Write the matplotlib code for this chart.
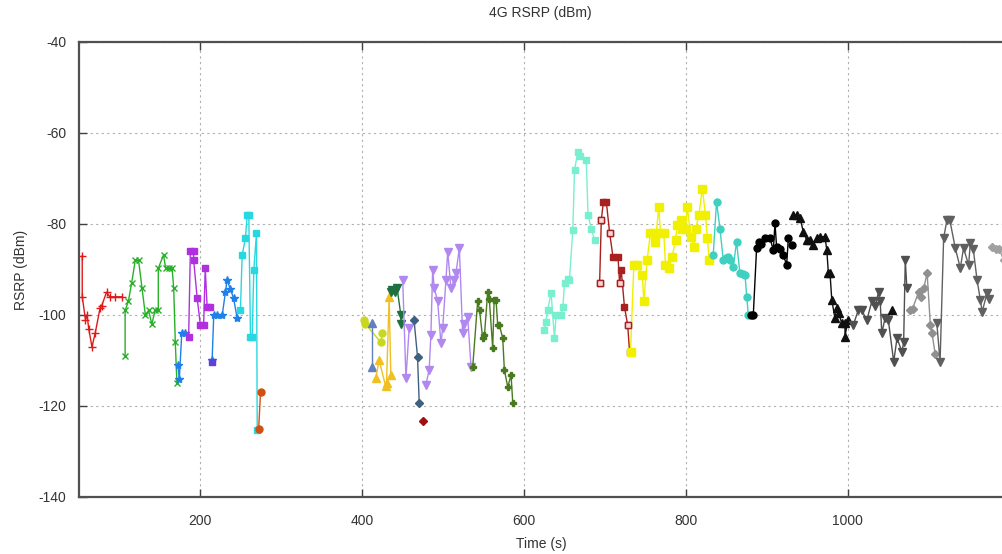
import matplotlib
matplotlib.use("Agg")
import matplotlib.pyplot as plt

plt.rcParams['font.family'] = ['Liberation Sans', 'DejaVu Sans']
plt.rcParams['axes.unicode_minus'] = False

# ---- data: (time, rsrp) per measurement segment ----
red_x = [54, 54, 58, 60, 62, 66, 70, 76, 78, 84, 88, 95, 103]
red_y = [-87, -96, -101, -100, -103, -107, -104, -98.5, -98, -95, -96, -96, -96]

green_x = [107, 107, 111, 115, 119.5, 123.6, 127.8, 132, 136, 140, 144, 148, 148, 154.5, 157, 161, 165, 167, 169, 171]
green_y = [-109, -99, -97, -93, -88, -88, -94, -100, -99, -102, -99, -99, -89.7, -86.8, -89.7, -89.7, -89.7, -94, -106, -115]

blue1_x = [172, 174, 177, 181]
blue1_y = [-111, -114, -104, -104]

purple_x = [185.5, 187.6, 191.7, 191.7, 196, 200, 204, 206, 208.3, 212.4]
purple_y = [-104.8, -86, -86, -88, -96.3, -102.2, -102.2, -89.7, -98.2, -98.2]

slate_sq_x = [214.5]
slate_sq_y = [-110.3]

blue2_x = [214.5, 216.5, 220.6, 227, 231, 233, 237, 241, 245.4]
blue2_y = [-110, -100, -100, -100, -94.9, -92.3, -94.3, -96.3, -100.7]

cyan_x = [249.5, 251.6, 255.7, 257.8, 259.8, 261.9, 264, 266, 269.3, 270.2]
cyan_y = [-98.9, -86.8, -83.1, -78, -78, -104.8, -104.8, -90.1, -82, -125.3]

orange_x = [272, 274.3]
orange_y = [-125, -117]

ygreen_x = [402, 404, 423, 425]
ygreen_y = [-101, -102, -106, -104]

steel_x = [412.6, 412.6]
steel_y = [-101.8, -111.4]

gold_x = [416.7, 420.8, 429, 430, 433.2, 435.3]
gold_y = [-113.9, -109.9, -115.7, -115, -96, -113.2]

dgreen_x = [435.3, 437, 440, 443, 447.7, 447.7]
dgreen_y = [-94.9, -94.5, -95, -94, -100, -102]

lav1_x = [450, 454, 458]
lav1_y = [-92.3, -113.9, -102.9]

slated_x = [464, 468.3, 470.4]
slated_y = [-101.1, -109.2, -119.3]

dred_x = [474.5]
dred_y = [-123.2]

lav2_x = [478.6, 482.7, 484.8, 487, 489, 493.2, 497.2, 499.4, 503.4, 505.6, 509.6, 513.8, 515.8, 520, 524, 526, 530.3, 534.4]
lav2_y = [-115.4, -112, -104.4, -90.1, -94.1, -97, -106.2, -102.9, -92.3, -86.1, -94.1, -92.3, -90.8, -85.3, -104, -102, -100.4, -111.4]

olive_x = [536.5, 542.6, 545, 548.8, 551, 555, 557, 561.2, 563, 565.3, 567.4, 569.4, 573.6, 575.6, 579.8, 583.9, 586]
olive_y = [-111.4, -97, -99, -105.1, -104.5, -94.9, -96.5, -107.3, -96.7, -96.7, -102.2, -102.2, -105.1, -112.1, -115.8, -113.2, -119.4]

aqua_x = [625, 627, 629, 633.4, 637.5, 639.6, 645.8, 647.9, 650, 654, 656, 660.2, 662.3, 666.4, 669, 676.8, 679, 683, 687.1]
aqua_y = [-103.3, -101.5, -98.9, -95.2, -105.1, -100, -100, -98.2, -93, -92, -92.3, -81.3, -68.1, -64.1, -65, -65.9, -78, -81, -83.5]

brown_x = [693.3, 695.4, 698, 701.6, 705.7, 709.8, 716, 718, 720, 724, 728, 730.3]
brown_y = [-93, -79.1, -75.1, -75.1, -82, -87.2, -87.2, -93, -90.1, -98.2, -102.2, -108.1]
brown_open = [0, 1, 4, 7, 10]

yellow_x = [731.5, 735.6, 739.7, 746, 748, 752, 756.1, 760, 762.3, 766.4, 768.5, 772.6, 774.7, 778.8, 783, 787.1, 789.2, 793.3, 795.5, 799.5, 801.7, 805.8, 809.9, 812, 816, 820.3, 824, 826.5, 828.6]
yellow_y = [-108.1, -89, -89, -91.2, -97, -87.9, -82, -82, -83.9, -76.2, -82, -82, -89, -89.7, -87.2, -83.5, -80.2, -79.1, -81, -81, -76.2, -82.8, -85, -81, -78, -72.2, -78, -83.1, -87.9]

turq_x = [833.7, 837.8, 842, 846.1, 849, 852.3, 855, 858.5, 862.5, 866.7, 870, 873, 875.1, 877.1]
turq_y = [-86.8, -75.1, -81, -87.9, -87.5, -87.2, -88, -89.4, -83.9, -90.8, -91, -91.2, -96, -100]

black_x = [880, 883.2, 887.3, 890, 893, 897.6, 903.8, 908, 910, 912, 916, 920.3, 924.4, 926.5, 930.7]
black_y = [-100, -100, -85.3, -84, -84.5, -83.1, -83.1, -85.7, -79.8, -85, -85.5, -86.8, -89, -83.1, -84.6]

btri_x = [932.7, 936.8, 941, 945, 949.2, 953, 957.4, 961.5, 966, 971.8, 974, 976, 978, 980.2, 984.1, 986.4, 988.5, 992.6, 996.5, 996.5, 1000]
btri_y = [-78, -78, -78.7, -81.7, -83.5, -83.5, -84.6, -83.1, -82.8, -82.8, -85.7, -90.8, -90.8, -96.7, -100.7, -98.5, -99.6, -101.8, -101.8, -104.8, -101]

dgray_x = [1006.8, 1013, 1017, 1023.5, 1029.7, 1034, 1038, 1040, 1042, 1046, 1050, 1056.7, 1060.8, 1067, 1069, 1071, 1073]
dgray_y = [-102.2, -98.9, -98.9, -101.1, -97, -98, -94.9, -97, -104, -100.7, -101, -110.3, -105.1, -108.1, -106, -87.9, -94.1]

btri2_x = [1054.3]
btri2_y = [-98.9]

gdia_x = [1077.4, 1080, 1087.6, 1090, 1094, 1098, 1102, 1104, 1108]
gdia_y = [-98.9, -98.6, -94.9, -96, -94, -90.8, -102.2, -104, -108.6]

gtri_x = [1110, 1114, 1118.4, 1122.5, 1126, 1132.8, 1139, 1143, 1149.3, 1151.4, 1155, 1159.7, 1163.8, 1166, 1172, 1175]
gtri_y = [-101.8, -110.3, -83.1, -79.1, -79.1, -85.3, -89.7, -85.3, -89, -84.2, -85.5, -92.3, -96.7, -99.3, -95.2, -96.5]

lgdia_x = [1178.3, 1183, 1187, 1192.8]
lgdia_y = [-85, -85.5, -85.5, -88]

x_ticks = [200, 400, 600, 800, 1000]
y_ticks = [-40, -60, -80, -100, -120, -140]

segments = [
    (red_x, red_y, '#e01818', '+', 6),
    (green_x, green_y, '#28b028', 'x', 5),
    (blue1_x, blue1_y, '#1e80e8', '*', 6),
    (purple_x, purple_y, '#b030e0', 's', 5),
    (blue2_x, blue2_y, '#1e80e8', '*', 6),
    (slate_sq_x, slate_sq_y, '#6040d8', 's', 5),
    (cyan_x, cyan_y, '#28d8e0', 's', 5),
    (orange_x, orange_y, '#d05010', 'o', 5),
    (ygreen_x, ygreen_y, '#c8d820', 'o', 5),
    (steel_x, steel_y, '#6080c0', '^', 5.5),
    (gold_x, gold_y, '#f0c020', '^', 6),
    (dgreen_x, dgreen_y, '#1f7040', 'v', 6),
    (lav1_x, lav1_y, '#b088f0', 'v', 6),
    (slated_x, slated_y, '#406080', 'D', 4.5),
    (dred_x, dred_y, '#a01010', 'D', 4.5),
    (lav2_x, lav2_y, '#b088f0', 'v', 6),
    (olive_x, olive_y, '#4a7a20', 'P', 5),
    (aqua_x, aqua_y, '#78f0d0', 's', 5),
    (brown_x, brown_y, '#a82020', 's', 5),
    (yellow_x, yellow_y, '#f0f000', 's', 6),
    (turq_x, turq_y, '#40d0c0', 'o', 5),
    (black_x, black_y, '#000000', 'o', 5),
    (btri_x, btri_y, '#101010', '^', 6),
    (dgray_x, dgray_y, '#505050', 'v', 6),
    (btri2_x, btri2_y, '#101010', '^', 6),
    (gdia_x, gdia_y, '#909090', 'D', 4.5),
    (gtri_x, gtri_y, '#606060', 'v', 6),
    (lgdia_x, lgdia_y, '#a0a0a0', 'D', 4.5),
]

fig = plt.figure(figsize=(10.02, 5.54), dpi=100)
ax = fig.add_axes([79 / 1002, 1 - 497 / 554, 925 / 1002, (497 - 42) / 554])

for xs, ys, col, mk, ms in segments:
    ax.plot(xs, ys, color=col, lw=1.0, marker=mk, ms=ms, mec=col, mfc=col, zorder=3)

# open markers in the brown series
ax.plot([brown_x[i] for i in brown_open], [brown_y[i] for i in brown_open],
        ls='none', marker='s', ms=5, mec='#a82020', mfc='#f4d8d8', zorder=4)

ax.set_xlim(50, 1193)
ax.set_ylim(-140, -40)
ax.set_xticks(x_ticks)
ax.set_yticks(y_ticks)
ax.grid(True, color='#b0b0b0', linestyle=(0, (2, 3)), linewidth=0.8)
ax.tick_params(direction='in', length=6, colors='#404040', labelcolor='#333333',
               labelsize=10, top=True, width=1)
ax.tick_params(axis='x', pad=12)
ax.tick_params(axis='y', pad=9)
for side in ['left', 'bottom', 'top']:
    ax.spines[side].set_color('#505050')
    ax.spines[side].set_linewidth(1.6)
ax.spines['right'].set_visible(False)

ax.set_xlabel('Time (s)', fontsize=10, color='#333333', labelpad=7)
ax.set_ylabel('RSRP (dBm)', fontsize=10, color='#333333', labelpad=8)
fig.text(0.539, 1 - 13 / 554, '4G RSRP (dBm)', ha='center', va='center', fontsize=10, color='#333333')

fig.savefig('out.png', dpi=100)
